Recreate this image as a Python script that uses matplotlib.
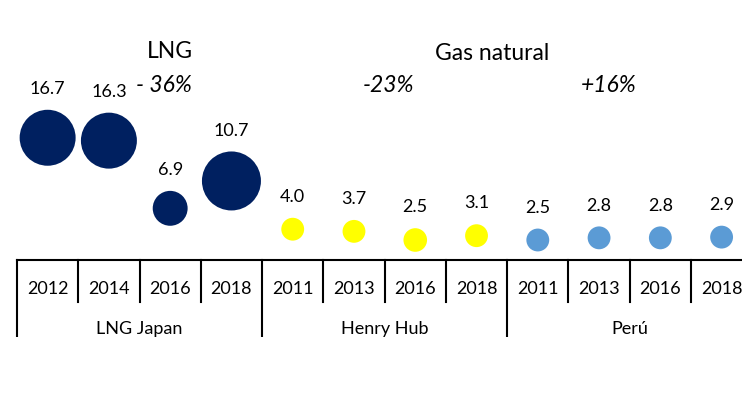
import matplotlib
matplotlib.use("Agg")
import matplotlib.pyplot as plt
from matplotlib.patches import Rectangle

plt.rcParams['font.family'] = ['Lato', 'DejaVu Sans']

# datos
years = ['2012', '2014', '2016', '2018',
         '2011', '2013', '2016', '2018',
         '2011', '2013', '2016', '2018']
groups = ['LNG Japan', 'Henry Hub', 'Perú']
group_len = [4, 4, 4]
precio = [16.7, 16.3, 6.9, 10.7,
          4.0, 3.7, 2.5, 3.1,
          2.5, 2.8, 2.8, 2.9]
burbuja = [90, 90, 35, 100,
           15, 15, 16, 15,
           15, 15, 15, 15]
group_colors = ['#002060', '#FFFF00', '#5B9BD5']
variacion = ['- 36%', '-23%', '+16%']

W, H = 742, 393
fig = plt.figure(figsize=(W / 100, H / 100), dpi=100)

# eje: x en slots, y en "precio" con escala fija en px
x0, slot = 17, 61.27
ppu = 7.2        # px por unidad
base = 258       # px (desde arriba) del valor 0
ax = fig.add_axes([x0 / W, 0, 12 * slot / W, 1])
ax.set_xlim(-0.5, 11.5)
ax.set_ylim((base - H) / ppu, base / ppu)
ax.axis('off')


def py(p):
    # pixel desde arriba -> coordenada y
    return (base - p) / ppu


colors = []
for c, n in zip(group_colors, group_len):
    colors += [c] * n

xs = list(range(len(years)))
k = (59 * 0.72) ** 2 / 100
ax.scatter(xs, precio, s=[b * k for b in burbuja], c=colors,
           edgecolors='none', zorder=3)

for x, v, b in zip(xs, precio, burbuja):
    r = (b * k) ** 0.5 / 2
    ax.annotate(f'{v:.1f}', (x, v), xytext=(0, r + 15), textcoords='offset points',
                ha='center', va='center', fontsize=13, color='black')

# eje horizontal y separadores
ax.plot([-0.5, 11.6], [py(260), py(260)], color='black', lw=1.5, clip_on=False)
start = 0
for g, n in zip(groups, group_len):
    ax.plot([start - 0.5] * 2, [py(260), py(340)], color='black', lw=1.5, clip_on=False)
    for j in range(1, n):
        ax.plot([start + j - 0.5] * 2, [py(260), py(302)], color='black', lw=1.5,
                clip_on=False)
    ax.text(start + (n - 1) / 2, py(329), g, ha='center', va='center', fontsize=13)
    start += n

for x, y in zip(xs, years):
    ax.text(x, py(289), y, ha='center', va='center', fontsize=13)

# titulos y variaciones
ax.text(2.0, py(52), 'LNG', ha='center', va='center', fontsize=16.5)
ax.text(7.25, py(53), 'Gas natural', ha='center', va='center', fontsize=16.5)
for x, t in zip([1.9, 5.57, 9.16], variacion):
    ax.text(x, py(86), t, ha='center', va='center', fontsize=16.5, style='italic')

# recorte inferior
fig.patches.append(Rectangle((0, 0), 1, (H - 337) / H, transform=fig.transFigure,
                             facecolor='white', edgecolor='none', zorder=10))

fig.savefig('out.png', dpi=100)
